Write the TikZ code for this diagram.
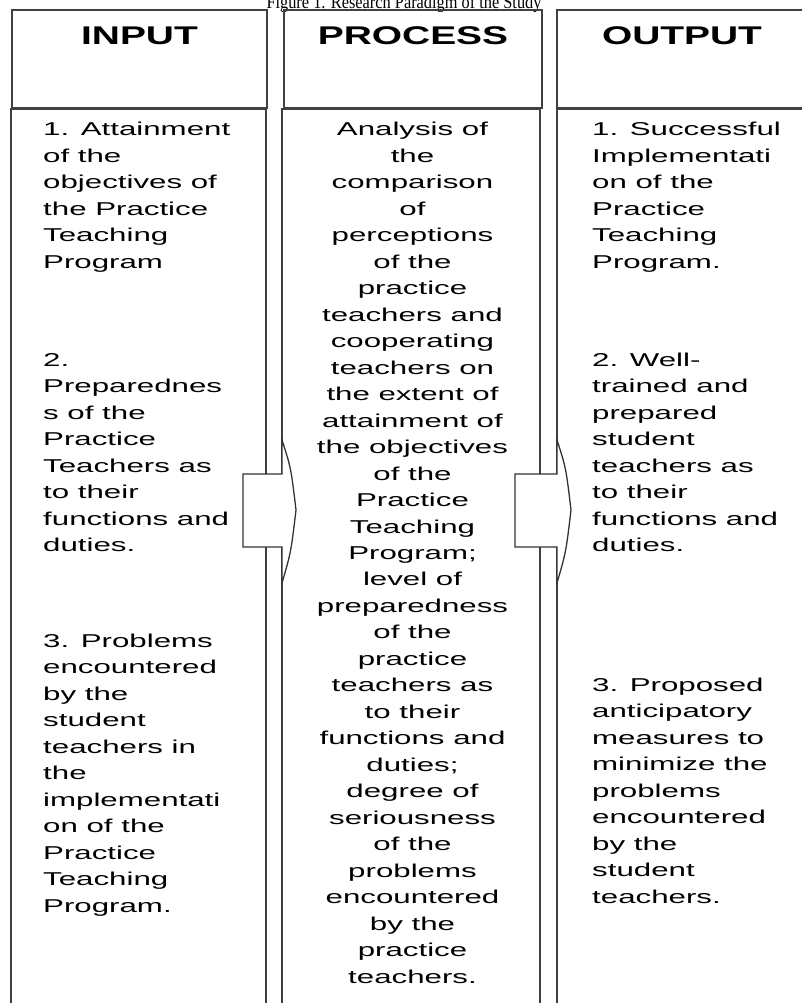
\documentclass[tikz,border=0pt]{standalone}
\usepackage{fontspec}
\newfontfamily\bodyfont[FakeStretch=1.68]{Liberation Sans}
\newfontfamily\headfont[FakeStretch=1.52]{Liberation Sans}
\newfontfamily\titlefont[FakeStretch=0.86]{Liberation Serif}
\tikzset{
  colline/.style={draw=black!75, line width=1.4pt},
  arrowshape/.style={draw=black!80, line width=1.3pt, fill=white, line join=miter},
  headtext/.style={inner sep=0pt, anchor=base, font={\headfont\bfseries\fontsize{25.6}{30}\selectfont}},
  lefttext/.style={inner sep=0pt, anchor=base west},
  midtext/.style={inner sep=0pt, anchor=base},
  titletext/.style={inner sep=0pt, anchor=base, font={\titlefont\fontsize{19}{22}\selectfont}}
}
\newcommand\leftblock[1]{\parbox[t]{230pt}{\bodyfont\fontsize{18.6}{26.5}\selectfont\raggedright #1\par}}
\newcommand\midblock[1]{\parbox[t]{250pt}{\bodyfont\fontsize{18.6}{26.47}\selectfont\centering #1\par}}
\begin{document}
\begin{tikzpicture}[x=1pt,y=-1pt]
\useasboundingbox (0,0) rectangle (802,1003);
\clip (0,0) rectangle (802,1003);

% title (cut by the top edge, as in the reference)
\node[titletext] (title) at (404,9) {Figure 1. Research Paradigm of the Study};

% header boxes
\draw[colline] (12,10) rectangle (267,108);
\draw[colline] (284,10) rectangle (542,108);
\draw[colline] (557,10) rectangle (810,108);
\node[headtext] (hin) at (139.5,45) {INPUT};
\node[headtext] (hproc) at (413,45) {PROCESS};
\node[headtext] (hout) at (682,45) {OUTPUT};

% body columns
\draw[colline] (11,109) rectangle (266,1012);
\draw[colline] (282,109) rectangle (540,1012);
\draw[colline] (557,109) rectangle (810,1012);

% block arrows
\draw[arrowshape] (243,474) -- (282,474) -- (282,440)
  .. controls (291,468) .. (296,510)
  .. controls (291,552) .. (282,583) -- (282,547) -- (243,547) -- cycle;
\draw[arrowshape] (515,474) -- (557,474) -- (557,440)
  .. controls (566,468) .. (571,510)
  .. controls (566,552) .. (557,583) -- (557,547) -- (515,547) -- cycle;

% input texts
\node[lefttext] (in1) at (43,136) {\leftblock{1. Attainment\\of the\\objectives of\\the Practice\\Teaching\\Program}};
\node[lefttext] (in2) at (43,366) {\leftblock{2.\\Preparednes\\s of the\\Practice\\Teachers as\\to their\\functions and\\duties.}};
\node[lefttext] (in3) at (43,647) {\leftblock{3. Problems\\encountered\\by the\\student\\teachers in\\the\\implementati\\on of the\\Practice\\Teaching\\Program.}};

% process text
\node[midtext] (proc) at (412.5,136) {\midblock{Analysis of\\the\\comparison\\of\\perceptions\\of the\\practice\\teachers and\\cooperating\\teachers on\\the extent of\\attainment of\\the objectives\\of the\\Practice\\Teaching\\Program;\\level of\\preparedness\\of the\\practice\\teachers as\\to their\\functions and\\duties;\\degree of\\seriousness\\of the\\problems\\encountered\\by the\\practice\\teachers.}};

% output texts
\node[lefttext] (out1) at (592,136) {\leftblock{1. Successful\\Implementati\\on of the\\Practice\\Teaching\\Program.}};
\node[lefttext] (out2) at (592,366) {\leftblock{2. Well-\\trained and\\prepared\\student\\teachers as\\to their\\functions and\\duties.}};
\node[lefttext] (out3) at (592,691) {\leftblock{3. Proposed\\anticipatory\\measures to\\minimize the\\problems\\encountered\\by the\\student\\teachers.}};
\end{tikzpicture}
\end{document}
